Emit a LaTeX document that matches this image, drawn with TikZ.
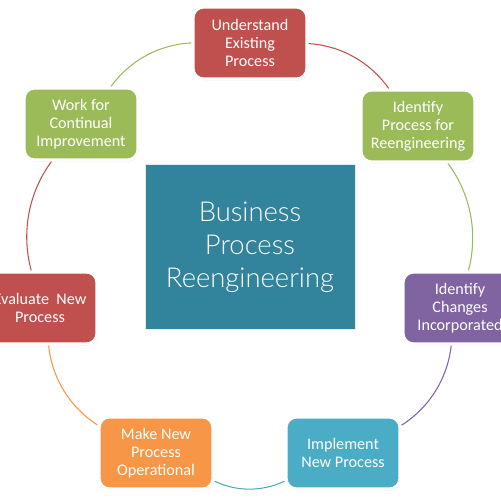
\documentclass[tikz,border=0pt]{standalone}
\usepackage{fontspec}
\setmainfont{Carlito}
\newfontfamily\titlefont{Lato Light}
\usetikzlibrary{shadows}
\definecolor{cred}{HTML}{C0504D}
\definecolor{cgreen}{HTML}{9BBB59}
\definecolor{cpurple}{HTML}{8064A2}
\definecolor{cteal}{HTML}{4BACC6}
\definecolor{corange}{HTML}{F79646}
\definecolor{ccenter}{HTML}{31849B}
\tikzset{
  stagebox/.style={draw=white, line width=1.8pt, rounded corners=6pt, minimum width=2.28cm, minimum height=1.44cm,
    text=white, align=center, font=\fontsize{9.2}{10.3}\selectfont, inner sep=1pt,
    drop shadow={shadow xshift=0.5pt, shadow yshift=-0.8pt, opacity=0.22, fill=black}},
  centerbox/.style={draw=white!85!ccenter, line width=0.5pt, fill=ccenter, minimum width=4.2cm, minimum height=3.3cm,
    text=white, align=center, font=\titlefont\fontsize{15.6}{18.8}\selectfont},
  cyc/.style={line width=0.6pt, bend left=25.7, looseness=0.9}
}
\begin{document}
\begin{tikzpicture}[x=0.02cm, y=0.02cm]
\useasboundingbox (0,0) rectangle (500,500);
\fill[white] (0,0) rectangle (500,500);
% center of cycle (250,240), radius 215
\node[stagebox, fill=cred]    (n1) at (250,457) {Understand\\Existing\\Process};
\node[stagebox, fill=cgreen]  (n2) at (418,374) {Identify\\Process for\\Reengineering};
\node[stagebox, fill=cpurple] (n3) at (460,192) {Identify\\Changes\\Incorporated};
\node[stagebox, fill=cteal]   (n4) at (343,47)  {Implement\\New Process};
\node[stagebox, fill=corange] (n5) at (156,47)  {Make New\\Process\\Operational};
\node[stagebox, fill=cred]    (n6) at (40,192)  {Evaluate~ New\\Process};
\node[stagebox, fill=cgreen]  (n7) at (81,376)  {Work for\\Continual\\Improvement};
\node[centerbox] (c) at (250,253) {Business\\Process\\Reengineering};
\draw[cyc, cred]    (n1) to (n2);
\draw[cyc, cgreen]  (n2) to (n3);
\draw[cyc, cpurple] (n3) to (n4);
\draw[cyc, cteal]   (n4) to (n5);
\draw[cyc, corange] (n5) to (n6);
\draw[cyc, cred]    (n6) to (n7);
\draw[cyc, cgreen]  (n7) to (n1);
\end{tikzpicture}
\end{document}
